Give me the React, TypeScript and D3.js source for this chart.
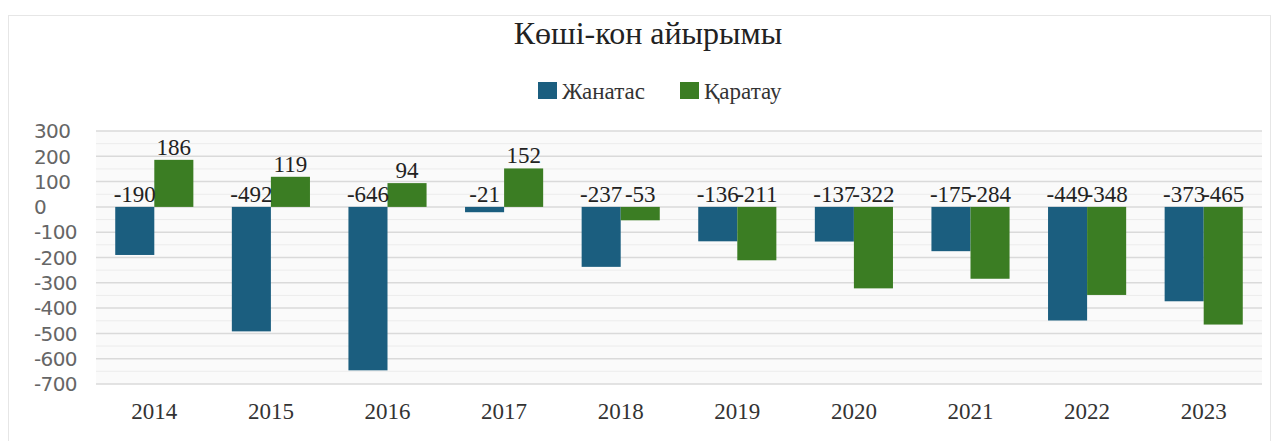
import React from "react";
import * as d3 from "d3";

const title = "Көші-кон айырымы";
const categories = ["2014", "2015", "2016", "2017", "2018", "2019", "2020", "2021", "2022", "2023"];
const seriesNames = ["Жанатас", "Қаратау"];
const zhanatas = [-190, -492, -646, -21, -237, -136, -137, -175, -449, -373];
const karatau = [186, 119, 94, 152, -53, -211, -322, -284, -348, -465];
const yTicks = [300, 200, 100, 0, -100, -200, -300, -400, -500, -600, -700];
const colors = ["#1b5e7f", "#3b7d23"];

const W = 1276;
const H = 441;
const plot = { left: 96, right: 1262, top: 131, bottom: 384 };

export default function App() {
  const x0 = d3.scaleBand<string>().domain(categories).range([plot.left, plot.right]).paddingInner(0.33).paddingOuter(0.165);
  const x1 = d3.scaleBand<number>().domain([0, 1]).range([0, x0.bandwidth()]);
  const y = d3.scaleLinear().domain([-700, 300]).range([plot.bottom, plot.top]);
  const minor = d3.range(-650, 300, 100);
  const series = [zhanatas, karatau];
  const serif = "'Liberation Serif', 'Times New Roman', serif";

  return (
    <svg width={W} height={H} style={{ position: "absolute", left: 0, top: 0, background: "#fff" }}>
      <rect x={8.5} y={15.5} width={1262} height={430} fill="#fff" stroke="#e6e6e6" />
      <rect x={plot.left} y={plot.top} width={plot.right - plot.left} height={plot.bottom - plot.top} fill="#fafafa" />
      {minor.map((v) => (
        <line key={"m" + v} x1={plot.left} x2={plot.right} y1={y(v)} y2={y(v)} stroke="#ececec" strokeWidth={1} />
      ))}
      {yTicks.map((v) => (
        <line key={"g" + v} x1={plot.left} x2={plot.right} y1={y(v)} y2={y(v)} stroke="#dadada" strokeWidth={1.5} />
      ))}
      {yTicks.map((v) => (
        <text key={"t" + v} x={34} y={y(v)} dy="0.36em" fontFamily="'DejaVu Sans', Verdana, sans-serif" fontSize={20} fill="#666" letterSpacing={-0.6}>
          {v}
        </text>
      ))}
      {categories.map((c, i) => (
        <g key={c}>
          {series.map((s, k) => {
            const v = s[i];
            const bx = (x0(c) as number) + (x1(k) as number);
            return (
              <rect key={k} x={bx} y={Math.min(y(v), y(0))} width={x1.bandwidth()} height={Math.abs(y(v) - y(0))} fill={colors[k]} />
            );
          })}
          {series.map((s, k) => {
            const v = s[i];
            const cx = (x0(c) as number) + (x1(k) as number) + x1.bandwidth() / 2;
            return (
              <text key={"l" + k} x={cx} y={Math.min(y(v), y(0)) - 5} textAnchor="middle" fontFamily={serif} fontSize={23} fill="#222">
                {v}
              </text>
            );
          })}
          <text x={(x0(c) as number) + x0.bandwidth() / 2} y={411} dy="0.36em" textAnchor="middle" fontFamily={serif} fontSize={23} fill="#333">
            {c}
          </text>
        </g>
      ))}
      <text x={648} y={32} dy="0.36em" textAnchor="middle" fontFamily={serif} fontSize={32} fill="#222">
        {title}
      </text>
      {seriesNames.map((n, k) => {
        const lx = [538, 680][k];
        return (
          <g key={n}>
            <rect x={lx} y={82} width={19} height={17} fill={colors[k]} />
            <text x={lx + 24} y={91} dy="0.36em" fontFamily={serif} fontSize={23} fill="#333">
              {n}
            </text>
          </g>
        );
      })}
    </svg>
  );
}
